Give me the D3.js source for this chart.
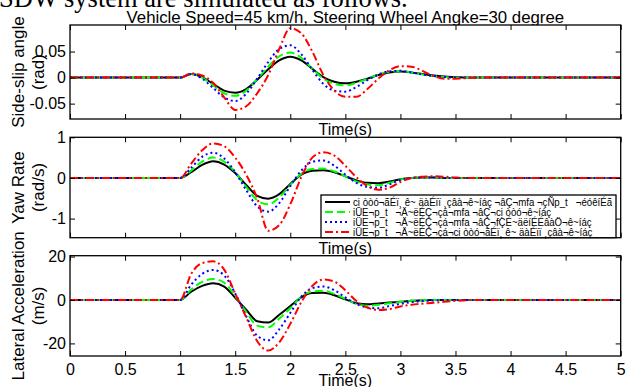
<!DOCTYPE html>
<html>
<head>
<meta charset="utf-8">
<script src="https://cdn.jsdelivr.net/npm/d3@7"></script>
<style>
  body { margin: 0; background: #fff; }
  svg { display: block; font-family: "Liberation Sans", Arial, sans-serif; }
</style>
</head>
<body>
<div id="chart"></div>
<script>
// time axis (s): flat until 1 s, then the manoeuvre, flat again to 5 s
const timeS = [0, 1.0, 1.1, 1.2, 1.3, 1.4, 1.5, 1.6, 1.7, 1.8, 1.9, 2.0, 2.1, 2.2, 2.3, 2.4,
  2.5, 2.6, 2.7, 2.8, 2.9, 3.0, 3.1, 3.2, 3.3, 3.4, 3.5, 3.6, 3.7, 5];

// side-slip angle (rad)
const sideSlipBlack = [0, 0, 0.007, 0.001, -0.012, -0.025, -0.029, -0.022, -0.004, 0.016, 0.033, 0.040, 0.033, 0.017, 0.001,
  -0.008, -0.011, -0.008, -0.002, 0.005, 0.010, 0.0115, 0.010, 0.007, 0.004, 0.002, 0.001, 0, 0, 0];
const sideSlipGreen = [0, 0, 0.007, 0.000, -0.015, -0.030, -0.035, -0.025, -0.003, 0.021, 0.041, 0.048, 0.038, 0.017, -0.002,
  -0.012, -0.015, -0.010, -0.002, 0.006, 0.011, 0.012, 0.010, 0.006, 0.003, 0.001, 0, 0, 0, 0];
const sideSlipBlue = [0, 0, 0.007, -0.002, -0.020, -0.038, -0.045, -0.031, -0.002, 0.030, 0.055, 0.062, 0.045, 0.015, -0.012,
  -0.025, -0.027, -0.018, -0.005, 0.006, 0.012, 0.013, 0.010, 0.006, 0.003, 0.001, 0, 0, 0, 0];
const sideSlipRed = [0, 0, 0.008, 0.004, -0.010, -0.038, -0.062, -0.055, -0.030, 0.005, 0.055, 0.095, 0.085, 0.050, 0.005,
  -0.025, -0.037, -0.037, -0.022, -0.002, 0.014, 0.022, 0.021, 0.013, 0.003, -0.002, -0.002, -0.001, 0, 0];

// yaw rate (rad/s)
const yawBlack = [0, 0, 0.14, 0.32, 0.41, 0.33, 0.12, -0.17, -0.44, -0.51, -0.40, -0.15, 0.08, 0.18, 0.19,
  0.14, 0.04, -0.06, -0.12, -0.13, -0.09, -0.03, 0, 0.01, 0.01, 0, 0, 0, 0, 0];
const yawGreen = [0, 0, 0.18, 0.40, 0.50, 0.40, 0.14, -0.22, -0.55, -0.65, -0.48, -0.17, 0.10, 0.22, 0.23,
  0.16, 0.04, -0.09, -0.16, -0.18, -0.12, -0.04, 0, 0.01, 0.01, 0, 0, 0, 0, 0];
const yawBlue = [0, 0, 0.25, 0.52, 0.62, 0.48, 0.14, -0.30, -0.70, -0.83, -0.62, -0.20, 0.18, 0.40, 0.43,
  0.30, 0.08, -0.12, -0.22, -0.24, -0.16, -0.05, 0, 0.01, 0.01, 0, 0, 0, 0, 0];
const yawRed = [0, 0, 0.35, 0.68, 0.85, 0.78, 0.50, 0.08, -0.50, -1.30, -1.16, -0.65, 0.02, 0.50, 0.63,
  0.55, 0.30, 0.02, -0.20, -0.29, -0.24, -0.10, 0, 0.03, 0.04, 0.03, 0.01, 0, 0, 0];

// lateral acceleration (m/s)
const latBlack = [0, 0, 3.8, 6.5, 7.7, 6.2, 1.0, -4.5, -9.8, -10.4, -6.8, -2.8, 1.2, 3.2, 3.3,
  2.2, 0.3, -1.5, -2.0, -1.6, -1.2, -0.8, -0.4, -0.1, 0, 0, 0, 0, 0, 0];
const latGreen = [0, 0, 4.8, 8.3, 9.7, 8.0, 1.8, -5.5, -11.8, -12.6, -8.5, -3.8, 1.5, 3.9, 4.2,
  2.8, 0.5, -1.8, -2.6, -2.2, -1.5, -0.9, -0.4, -0.1, 0, 0, 0, 0, 0, 0];
const latBlue = [0, 0, 7.0, 12.0, 13.8, 11.3, 3.0, -7.5, -16.5, -18.6, -13.5, -6.0, 1.5, 5.5, 6.2,
  4.5, 1.2, -1.8, -3.5, -3.8, -2.8, -1.8, -1.0, -0.5, -0.2, 0, 0, 0, 0, 0];
const latRed = [0, 0, 12.0, 17.0, 17.8, 14.0, 3.0, -8.0, -19.0, -23.3, -19.5, -11.0, -1.0, 6.5, 9.4,
  8.5, 4.5, -0.5, -3.5, -4.6, -4.2, -3.0, -2.2, -1.7, -1.3, -0.8, -0.4, -0.1, 0, 0];

const xTicks = [0, 0.5, 1, 1.5, 2, 2.5, 3, 3.5, 4, 4.5, 5];
const sideSlipTicks = [-0.05, 0, 0.05];
const yawTicks = [-1, 0, 1];
const latTicks = [-20, 0, 20];

// legend text as it appears in the figure (broken encoding)
const legendLabels = [
  'cị òòó¬ãÉï¸ ê~ äàÉïï ¸çâà¬ê~íáç ¬âÇ¬mfa ¬çÑp_t   ¬éóêíÉã',
  'iÜE¬p_t   ¬Ä~ëÉÇ¬çá¬mfa ¬âÇ¬cị òòó¬ê~íáç',
  'iÜE¬p_t   ¬Ä~ëÉÇ¬çá¬mfa ¬âÇ¬fÇÉ~äëíÉÉâàÖ¬ê~íáç',
  'iÜE¬p_t   ¬Ä~ëÉÇ¬çá¬cị òòó¬ãÉï¸ ê~ äàÉïï ¸çâà¬ê~íáç'
];

const lineStyles = [
  { color: '#000000', dash: null },
  { color: '#00ff00', dash: '8,4' },
  { color: '#0000ff', dash: '2,3' },
  { color: '#ff0000', dash: '8,3,2,3' }
];

const width = 627;
const height = 387;
const plotLeft = 70;
const plotRight = 620.7;

const panels = [
  { series: [sideSlipBlack, sideSlipGreen, sideSlipBlue, sideSlipRed], domain: [-0.0795, 0.101],
    top: 25, bottom: 119, ticks: sideSlipTicks, label: ['Side-slip angle', '(rad)'] },
  { series: [yawBlack, yawGreen, yawBlue, yawRed], domain: [-1.47, 1.0],
    top: 137.3, bottom: 237.7, ticks: yawTicks, label: ['Yaw Rate', '(rad/s)'] },
  { series: [latBlack, latGreen, latBlue, latRed], domain: [-25.8, 20.4],
    top: 255.7, bottom: 356, ticks: latTicks, label: ['Lateral Acceleration', '(m/s)'] }
];

const svg = d3.select('#chart')
  .append('svg')
  .attr('width', width)
  .attr('height', height);

svg.append('rect').attr('width', width).attr('height', height).attr('fill', '#fff');

// sentence from the page above the figure, cut off at the top
svg.append('text')
  .attr('x', -1)
  .attr('y', 7)
  .style('font-family', '"Liberation Serif", "Times New Roman", serif')
  .style('font-size', '26.5px')
  .text('SDW system are simulated as follows.');

const x = d3.scaleLinear().domain([0, 5]).range([plotLeft, plotRight]);

svg.append('text')
  .attr('x', (plotLeft + plotRight) / 2)
  .attr('y', 22.5)
  .attr('text-anchor', 'middle')
  .style('font-size', '16.8px')
  .text('Vehicle Speed=45 km/h, Steering Wheel Angke=30 degree');

panels.forEach((panel, panelIndex) => {
  const isLast = panelIndex === panels.length - 1;
  const y = d3.scaleLinear().domain(panel.domain).range([panel.bottom, panel.top]);
  const g = svg.append('g');

  g.append('rect')
    .attr('x', plotLeft)
    .attr('y', panel.top)
    .attr('width', plotRight - plotLeft)
    .attr('height', panel.bottom - panel.top)
    .attr('fill', '#fff');

  const clipId = `clip-${panelIndex}`;
  g.append('clipPath').attr('id', clipId)
    .append('rect')
    .attr('x', plotLeft)
    .attr('y', panel.top)
    .attr('width', plotRight - plotLeft)
    .attr('height', panel.bottom - panel.top);

  const line = d3.line()
    .x((d, i) => x(timeS[i]))
    .y(d => y(d))
    .curve(d3.curveMonotoneX);

  g.append('g')
    .attr('clip-path', `url(#${clipId})`)
    .selectAll('path')
    .data(panel.series)
    .join('path')
    .attr('d', line)
    .attr('fill', 'none')
    .attr('stroke', (d, i) => lineStyles[i].color)
    .attr('stroke-width', 2)
    .attr('stroke-dasharray', (d, i) => lineStyles[i].dash);

  // ticks on all four sides, pointing inward
  const bottomAxis = g.append('g')
    .attr('transform', `translate(0,${panel.bottom})`)
    .call(d3.axisBottom(x).tickValues(xTicks).tickSizeInner(-5).tickSizeOuter(0).tickPadding(8)
      .tickFormat(isLast ? d => String(d) : () => ''));
  g.append('g')
    .attr('transform', `translate(0,${panel.top})`)
    .call(d3.axisTop(x).tickValues(xTicks).tickSizeInner(-5).tickSizeOuter(0).tickFormat(() => ''));
  const leftAxis = g.append('g')
    .attr('transform', `translate(${plotLeft},0)`)
    .call(d3.axisLeft(y).tickValues(panel.ticks).tickSizeInner(-5).tickSizeOuter(0).tickPadding(4)
      .tickFormat(d => String(d)));
  g.append('g')
    .attr('transform', `translate(${plotRight},0)`)
    .call(d3.axisRight(y).tickValues(panel.ticks).tickSizeInner(-5).tickSizeOuter(0).tickFormat(() => ''));

  g.selectAll('.domain').remove();
  g.selectAll('.tick line').attr('stroke', '#000').attr('stroke-width', 1);
  [bottomAxis, leftAxis].forEach(axis => axis.selectAll('text')
    .style('font-family', '"Liberation Sans", Arial, sans-serif')
    .style('font-size', '16px')
    .attr('fill', '#000'));

  g.append('rect')
    .attr('x', plotLeft)
    .attr('y', panel.top)
    .attr('width', plotRight - plotLeft)
    .attr('height', panel.bottom - panel.top)
    .attr('fill', 'none')
    .attr('stroke', '#000')
    .attr('stroke-width', 1.3);

  // y label, two lines, rotated
  const midY = (panel.top + panel.bottom) / 2;
  panel.label.forEach((txt, li) => {
    g.append('text')
      .attr('transform', `translate(${li === 0 ? 24 : 44},${midY}) rotate(-90)`)
      .attr('text-anchor', 'middle')
      .style('font-size', '17px')
      .text(txt);
  });

  // legend sits in the yaw rate panel
  if (panelIndex === 1) {
    const legend = g.append('g');
    legend.append('rect')
      .attr('x', 321)
      .attr('y', 195)
      .attr('width', 295)
      .attr('height', 42.7)
      .attr('fill', '#fff')
      .attr('stroke', '#000')
      .attr('stroke-width', 1.3);
    const texts = legendLabels.map((txt, li) => {
      const rowY = 202 + li * 10;
      legend.append('line')
        .attr('x1', 325).attr('x2', 350)
        .attr('y1', rowY).attr('y2', rowY)
        .attr('stroke', lineStyles[li].color)
        .attr('stroke-width', 2)
        .attr('stroke-dasharray', lineStyles[li].dash);
      return legend.append('text')
        .attr('x', 353)
        .attr('y', rowY + 4)
        .style('font-size', '11px')
        .style('white-space', 'pre')
        .text(txt);
    });
    // squeeze the rows horizontally so the longest one fits the box
    const widths = texts.map(t => t.node().getComputedTextLength());
    const squeeze = Math.min(1, 259 / d3.max(widths));
    texts.forEach((t, i) => t
      .attr('textLength', widths[i] * squeeze)
      .attr('lengthAdjust', 'spacingAndGlyphs'));
  }

  // x label drawn after the panel so the next panel covers its lower part
  svg.append('text')
    .attr('x', (plotLeft + plotRight) / 2)
    .attr('y', isLast ? 386 : panel.bottom + 16)
    .attr('text-anchor', 'middle')
    .style('font-size', '16px')
    .text('Time(s)');
});
</script>
</body>
</html>
